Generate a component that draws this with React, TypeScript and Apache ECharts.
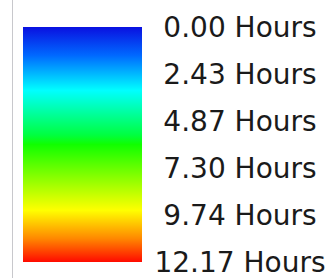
import React, { useEffect, useRef } from "react";
import * as echarts from "echarts";

const hourTicks = [0.0, 2.43, 4.87, 7.3, 9.74, 12.17];
const maxHours = 12.17;
const unitLabel = "Hours";
const gradientStops = [0, 0.12, 0.27, 0.38, 0.46, 0.5, 0.63, 0.78, 0.9, 1];
const gradientColors = [
  "#0a10e0",
  "#0068ff",
  "#00ffff",
  "#00ff90",
  "#00ff40",
  "#10ff00",
  "#80ff00",
  "#ffff00",
  "#ff8800",
  "#ff0a00",
];

export default function App() {
  const ref = useRef<HTMLDivElement>(null);
  useEffect(() => {
    if (!ref.current) return;
    const chart = echarts.init(ref.current, null, { renderer: "svg" });
    const tickLabels = hourTicks.map((v) => `${v.toFixed(2)} ${unitLabel}`);
    chart.setOption({
      animation: false,
      backgroundColor: "#ffffff",
      grid: { left: 23, top: 27, width: 119, height: 235 },
      xAxis: { type: "category", data: [unitLabel], show: false },
      yAxis: [
        { type: "value", min: 0, max: maxHours, inverse: true, show: false },
        {
          type: "category",
          data: tickLabels,
          inverse: true,
          boundaryGap: false,
          position: "right",
          axisLine: { show: false },
          axisTick: { show: false },
          splitLine: { show: false },
          axisLabel: {
            interval: 0,
            align: "center",
            margin: 98,
            padding: [0, 0, 4, 0],
            fontFamily: "DejaVu Sans",
            fontSize: 28,
            color: "#1a1a1a",
          },
        },
      ],
      series: [
        {
          type: "bar",
          yAxisIndex: 0,
          barWidth: "100%",
          data: [maxHours],
          itemStyle: {
            color: new echarts.graphic.LinearGradient(
              0,
              0,
              0,
              1,
              gradientStops.map((o, i) => ({ offset: o, color: gradientColors[i] }))
            ),
          },
        },
      ],
      graphic: [
        {
          type: "line",
          shape: { x1: 12.5, y1: 0, x2: 12.5, y2: 278 },
          style: { stroke: "#c8c8cc", lineWidth: 1 },
        },
      ],
    });
    return () => chart.dispose();
  }, []);
  return (
    <div
      ref={ref}
      style={{ position: "fixed", left: 0, top: 0, width: 334, height: 278, background: "#fff" }}
    />
  );
}
